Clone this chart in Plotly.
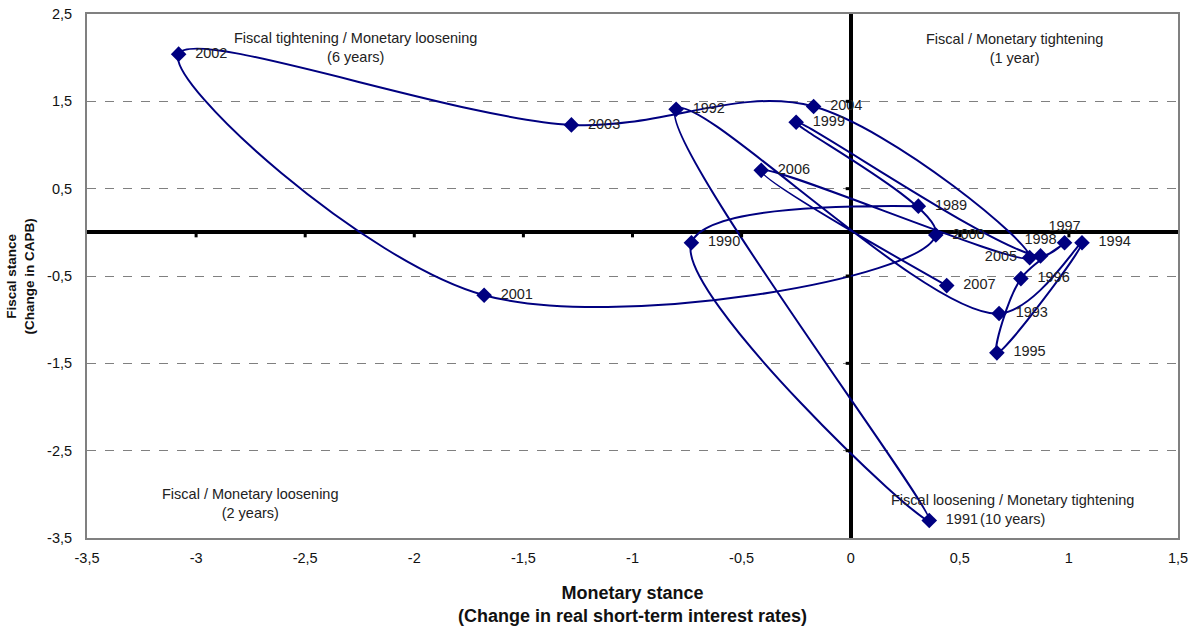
import plotly.graph_objects as go

years = ["1989", "1990", "1991", "1992", "1993", "1994", "1995", "1996", "1997", "1998",
         "1999", "2000", "2001", "2002", "2003", "2004", "2005", "2006", "2007"]
monetary = [0.31, -0.73, 0.36, -0.80, 0.68, 1.06, 0.67, 0.78, 0.98, 0.87,
            -0.25, 0.39, -1.68, -3.08, -1.28, -0.17, 0.82, -0.41, 0.44]
fiscal = [0.30, -0.12, -3.30, 1.41, -0.93, -0.12, -1.38, -0.53, -0.12, -0.27,
          1.26, -0.03, -0.72, 2.04, 1.23, 1.44, -0.29, 0.71, -0.61]
label_pos = ["middle right", "middle right", "middle right", "middle right", "middle right",
             "middle right", "middle right", "middle right", "top center", "top center",
             "middle right", "middle right", "middle right", "middle right", "middle right",
             "middle right", "middle left", "middle right", "middle right"]

quadrant_text = [
    "Fiscal tightening / Monetary loosening<br>(6 years)",
    "Fiscal / Monetary tightening<br>(1 year)",
    "Fiscal / Monetary loosening<br>(2 years)",
    "Fiscal loosening / Monetary tightening<br>(10 years)",
]
quadrant_x = [-2.27, 0.75, -2.75, 0.74]
quadrant_y = [2.12, 2.10, -3.10, -3.17]

x_ticks = [-3.5, -3, -2.5, -2, -1.5, -1, -0.5, 0, 0.5, 1, 1.5]
y_ticks = [-3.5, -2.5, -1.5, -0.5, 0.5, 1.5, 2.5]


def fmt(v):
    return ("%g" % v).replace(".", ",")


navy = "#000080"
font_family = "Liberation Sans, Arial"

fig = go.Figure()
fig.add_trace(go.Scatter(
    x=monetary, y=fiscal,
    mode="lines+markers+text",
    text=["  " + y if p == "middle right" else (y + " " if p == "middle left" else y)
          for y, p in zip(years, label_pos)],
    textposition=label_pos,
    textfont=dict(family=font_family, size=14.5, color="#222222"),
    line=dict(color=navy, width=2, shape="spline", smoothing=1.0),
    marker=dict(symbol="diamond", size=12, color=navy),
    showlegend=False, cliponaxis=False,
))

shapes = []
for xv in x_ticks[1:-1]:
    shapes.append(dict(type="line", xref="x", yref="y", x0=xv, x1=xv,
                       ysizemode="pixel", yanchor=0, y0=0, y1=-5,
                       line=dict(color="black", width=3), layer="above"))
for yv in y_ticks[1:-1]:
    shapes.append(dict(type="line", xref="x", yref="y", y0=yv, y1=yv,
                       xsizemode="pixel", xanchor=0, x0=-5, x1=0,
                       line=dict(color="black", width=3), layer="above"))

annotations = []
for t, xv, yv in zip(quadrant_text, quadrant_x, quadrant_y):
    annotations.append(dict(x=xv, y=yv, xref="x", yref="y", text=t, showarrow=False,
                            font=dict(family=font_family, size=14.5, color="#222222")))
annotations.append(dict(x=0.5, y=-0.082, xref="paper", yref="paper",
                        text="<b>Monetary stance</b><br><b>(Change in real short-term interest rates)</b>",
                        showarrow=False, xanchor="center", yanchor="top",
                        font=dict(family=font_family, size=18, color="#111111")))
annotations.append(dict(x=-0.061, y=0.5, xref="paper", yref="paper",
                        text="<b>Fiscal stance</b><br><b>(Change in CAPB)</b>",
                        showarrow=False, textangle=-90, xanchor="center", yanchor="middle",
                        font=dict(family=font_family, size=13.5, color="#111111")))

fig.update_layout(
    width=1194, height=630,
    margin=dict(l=87, r=16, t=14, b=92, autoexpand=False),
    paper_bgcolor="white", plot_bgcolor="white",
    shapes=shapes, annotations=annotations,
    font=dict(family=font_family, size=14.5, color="#111111"),
    xaxis=dict(range=[-3.5, 1.5], tickvals=x_ticks, ticktext=[fmt(v) for v in x_ticks],
               showgrid=False, automargin=False,
               zeroline=True, zerolinecolor="black", zerolinewidth=4,
               showline=True, mirror=True, linecolor="#808080", linewidth=2,
               ticks="", ticklabelstandoff=6),
    yaxis=dict(range=[-3.5, 2.5], tickvals=y_ticks, ticktext=[fmt(v) for v in y_ticks],
               showgrid=True, automargin=False,
               gridcolor="#808080", griddash="dash", gridwidth=1,
               zeroline=True, zerolinecolor="black", zerolinewidth=4,
               showline=True, mirror=True, linecolor="#808080", linewidth=2,
               ticks="", ticklabelstandoff=10),
)

fig.write_html("out.html", config={"displayModeBar": False},
               post_script="document.body.style.margin='0';")
